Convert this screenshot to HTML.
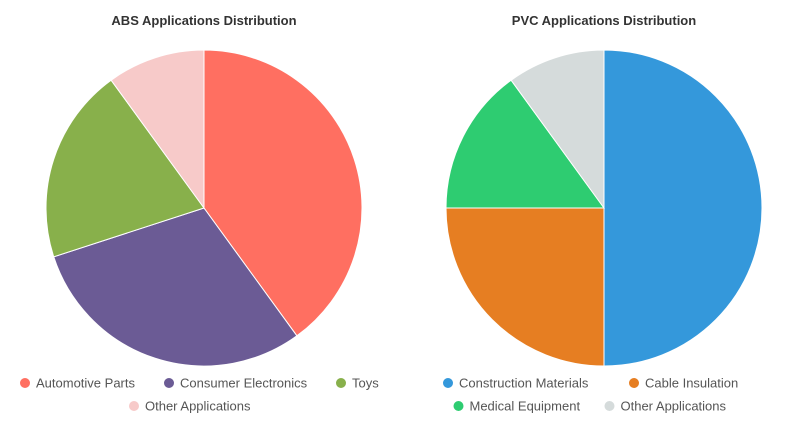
<!DOCTYPE html>
<html><head><meta charset="utf-8"><style>
body{margin:0;background:#fff;font-family:"Liberation Sans",sans-serif;}
svg{display:block}
</style></head><body>
<svg id="chart" width="808" height="433"></svg>
<script>
const absLabels=["Automotive Parts","Consumer Electronics","Toys","Other Applications"];
const absValues=[40,30,20,10];
const absColors=["#ff6f61","#6b5b95","#88b04b","#f7cac9"];
const pvcLabels=["Construction Materials","Cable Insulation","Medical Equipment","Other Applications"];
const pvcValues=[50,25,15,10];
const pvcColors=["#3498db","#e67e22","#2ecc71","#d5dbdb"];
const NS="http://www.w3.org/2000/svg";
const svg=document.getElementById("chart");
function mk(t,a){const e=document.createElementNS(NS,t);for(const k in a)e.setAttribute(k,a[k]);return e;}
function pie(cx,cy,r,title,labels,values,colors,legendRows,key){
  const t=mk("text",{x:cx,y:25,"text-anchor":"middle","font-size":"13","font-weight":"bold",fill:"#333"});
  t.textContent=title;
  
  
  svg.appendChild(t);
  const total=values.reduce((a,b)=>a+b,0);
  let a0=0;
  values.forEach((v,i)=>{
    const a1=a0+v/total*2*Math.PI;
    const x0=cx+r*Math.sin(a0),y0=cy-r*Math.cos(a0),x1=cx+r*Math.sin(a1),y1=cy-r*Math.cos(a1);
    const large=(a1-a0)>Math.PI?1:0;
    const p=mk("path",{d:`M${cx},${cy}L${x0},${y0}A${r},${r} 0 ${large} 1 ${x1},${y1}Z`,fill:colors[i],stroke:"#fff","stroke-width":"1"});
    
    
    svg.appendChild(p);
    a0=a1;
  });
  legendRows.forEach((row,ri)=>{
    const y=383+ri*23;
    const widths=row.map(i=>labels[i].length*7+24);
    const tw=widths.reduce((a,b)=>a+b,0)+(row.length-1)*8;
    let x=cx-tw/2;
    row.forEach((i,j)=>{
      const g=mk("g",{});
      
      
      g.appendChild(mk("circle",{cx:x+5,cy:y,r:5,fill:colors[i]}));
      const tx=mk("text",{x:x+16,y:y+4.5,"font-size":"13",fill:"#555"});
      tx.textContent=labels[i];
      g.appendChild(tx);
      svg.appendChild(g);
      x+=widths[j]+8;
    });
  });
}
pie(204,208,158,"ABS Applications Distribution",absLabels,absValues,absColors,[[0,1,2],[3]],"abs");
pie(604,208,158,"PVC Applications Distribution",pvcLabels,pvcValues,pvcColors,[[0,1],[2,3]],"pvc");
</script>
</body></html>
